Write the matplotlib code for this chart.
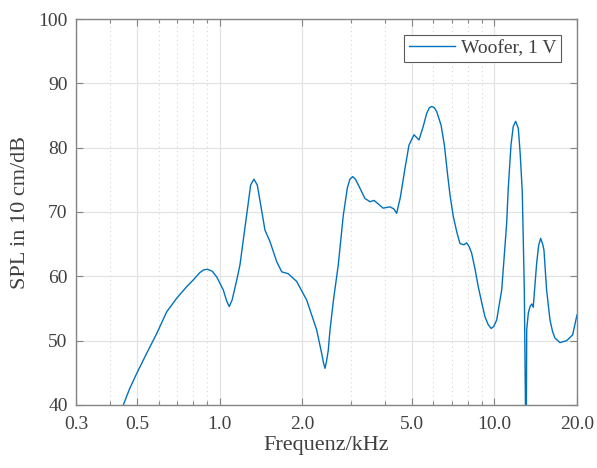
import numpy as np
import matplotlib
matplotlib.use("Agg")
import matplotlib.pyplot as plt
from matplotlib.ticker import FixedLocator, FixedFormatter, NullFormatter

# values (frequency in kHz, SPL in dB)
freq_khz = [0.30, 0.40, 0.446, 0.47, 0.499, 0.542, 0.59, 0.642, 0.698, 0.759, 0.80,
            0.848, 0.875, 0.902, 0.94, 0.976, 1.031, 1.06, 1.084, 1.11, 1.154,
            1.186, 1.219, 1.254, 1.297, 1.333, 1.371, 1.411, 1.462, 1.525, 1.613,
            1.683, 1.778, 1.908, 2.075, 2.255, 2.353, 2.39, 2.419, 2.45, 2.486,
            2.523, 2.60, 2.704, 2.82, 2.916, 2.98, 3.05, 3.12, 3.2, 3.38, 3.53,
            3.65, 3.84, 3.94, 4.05, 4.17, 4.3, 4.41, 4.55, 4.73, 4.89, 5.1, 5.32,
            5.51, 5.67, 5.80, 5.92, 6.05, 6.17, 6.40, 6.58, 6.76, 6.90, 7.09,
            7.30, 7.50, 7.75, 7.93, 8.10, 8.27, 8.50, 8.74, 9.0, 9.25, 9.5,
            9.74, 9.95, 10.2, 10.64, 11.09, 11.24, 11.5, 11.72, 11.96, 12.23,
            12.43, 12.64, 12.86, 12.98, 13.04, 13.12, 13.3, 13.49, 13.68, 13.86,
            14.05, 14.26, 14.5, 14.75, 15.0, 15.16, 15.5, 15.95, 16.3, 16.63,
            17.34, 18.34, 19.28, 20.0]
spl_db = [22.0, 35.5, 40.0, 42.5, 44.9, 48.0, 51.1, 54.5, 56.6, 58.4, 59.4,
          60.6, 61.0, 61.1, 60.8, 59.9, 57.9, 56.2, 55.3, 56.3, 59.4,
          61.8, 65.6, 69.5, 74.2, 75.1, 74.2, 71.1, 67.2, 65.4, 62.3,
          60.7, 60.4, 59.2, 56.3, 51.7, 48.0, 46.5, 45.7, 46.8, 48.5,
          51.7, 56.5, 61.8, 69.5, 73.7, 75.1, 75.5, 75.1, 74.2, 72.1, 71.6,
          71.8, 71.0, 70.6, 70.7, 70.8, 70.5, 69.8, 72.3, 76.8, 80.4, 82.0, 81.2,
          83.3, 85.3, 86.2, 86.4, 86.2, 85.6, 83.5, 80.4, 75.8, 72.6, 69.3,
          66.9, 65.1, 64.9, 65.2, 64.6, 63.6, 61.2, 58.4, 55.9, 53.7, 52.5,
          51.9, 52.2, 53.2, 57.9, 68.2, 73.7, 80.4, 83.3, 84.1, 83.0,
          78.9, 73.2, 57.9, 40.3, 25.0, 51.7, 54.3, 55.3, 55.7, 55.2,
          58.5, 62.0, 64.8, 65.9, 65.0, 64.1, 57.9, 53.2, 51.4, 50.4,
          49.7, 50.0, 50.9, 54.0]

major_ticks = [0.3, 0.5, 1.0, 2.0, 5.0, 10.0, 20.0]
minor_ticks = [0.4, 0.6, 0.7, 0.8, 0.9, 3.0, 4.0, 6.0, 7.0, 8.0, 9.0]
y_ticks = [40, 50, 60, 70, 80, 90, 100]

plt.rcParams['font.family'] = ['Liberation Serif', 'DejaVu Serif']
axis_col = '#858585'
text_col = '#404040'

fig = plt.figure(figsize=(5.97, 4.68), dpi=100)
ax = fig.add_axes([76 / 597, 1 - 405 / 468, 501 / 597, 386 / 468])

ax.plot(freq_khz, spl_db, color='#0072BD', lw=1.0, label='Woofer, 1 V')

ax.set_xscale('log')
ax.set_xlim(0.3, 20)
ax.set_ylim(40, 100)

ax.xaxis.set_major_locator(FixedLocator(major_ticks))
ax.xaxis.set_major_formatter(FixedFormatter(['%.1f' % t for t in major_ticks]))
ax.xaxis.set_minor_locator(FixedLocator(minor_ticks))
ax.xaxis.set_minor_formatter(NullFormatter())
ax.set_yticks(y_ticks)

ax.grid(which='major', color='#e3e3e3', lw=0.9, ls='-')
ax.grid(which='minor', axis='x', color='#d6d6d6', lw=0.8, ls=(0, (1, 3)))
ax.set_axisbelow(True)

ax.tick_params(which='both', direction='in', top=True, right=True,
               color=axis_col, labelcolor=text_col, labelsize=14)
ax.tick_params(which='major', length=5, width=0.8)
ax.tick_params(which='minor', length=3, width=0.8)
ax.tick_params(axis='x', pad=8)
ax.tick_params(axis='y', pad=6)
for s in ax.spines.values():
    s.set_color(axis_col)
    s.set_linewidth(1.0)

ax.set_xlabel('Frequenz/kHz', fontsize=16, color=text_col, labelpad=2)
ax.set_ylabel('SPL in 10 cm/dB', fontsize=16, color=text_col, labelpad=6)

leg = ax.legend(loc='upper right', fontsize=14, fancybox=False, framealpha=1,
                edgecolor='#5a5a5a', borderaxespad=0.8, handlelength=2.4,
                handletextpad=0.3, borderpad=0.25)
leg.get_frame().set_linewidth(0.8)
for t in leg.get_texts():
    t.set_color(text_col)

fig.savefig('out.png', dpi=100)
